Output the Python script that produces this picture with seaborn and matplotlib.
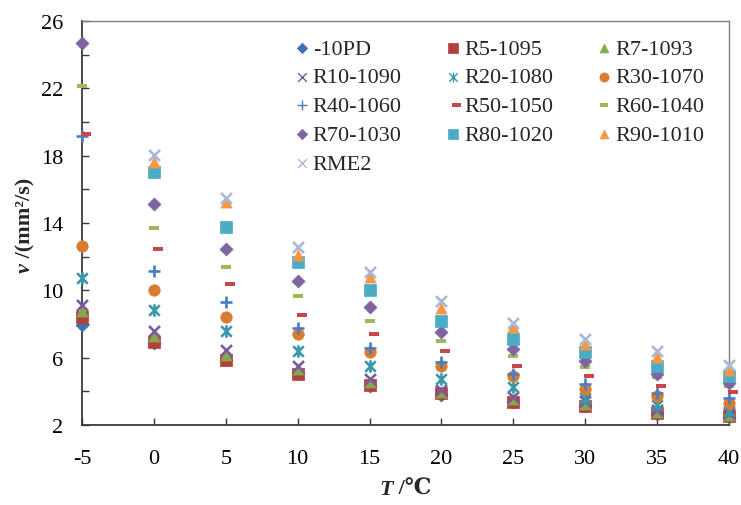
import numpy as np
import pandas as pd
import matplotlib
matplotlib.use("Agg")
import matplotlib.pyplot as plt
from matplotlib.path import Path
import seaborn as sns

nan = np.nan
temps = [-5, 0, 5, 10, 15, 20, 25, 30, 35, 40]

names = ["-10PD", "R5-1095", "R7-1093", "R10-1090", "R20-1080", "R30-1070",
         "R40-1060", "R50-1050", "R60-1040", "R70-1030", "R80-1020",
         "R90-1010", "RME2"]

v_pd10 = [7.94, 6.85, 5.85, 5.10, 4.30, 3.80, 3.35, 3.10, 2.68, 2.48]
v_r5 = [8.39, 6.95, 5.88, 5.03, 4.35, 3.88, 3.38, 3.15, 2.72, 2.52]
v_r7 = [8.79, 7.30, 6.15, 5.32, 4.53, 3.97, 3.54, 3.25, 2.80, 2.62]
v_r10 = [9.13, 7.60, 6.47, 5.52, 4.73, 4.09, 3.64, 3.40, 2.90, 2.71]
v_r20 = [10.71, 8.85, 7.56, 6.41, 5.52, 4.73, 4.24, 3.60, 3.20, 2.84]
v_r30 = [12.65, 10.02, 8.39, 7.40, 6.31, 5.48, 4.89, 4.13, 3.70, 3.30]
v_r40 = [19.18, 11.16, 9.32, 7.74, 6.57, 5.72, 5.03, 4.43, 3.90, 3.58]
v_r50 = [19.29, 12.45, 10.37, 8.53, 7.40, 6.39, 5.48, 4.89, 4.33, 3.94]
v_r60 = [22.16, 13.68, 11.40, 9.64, 8.19, 6.97, 6.08, 5.46, 4.83, 4.33]
v_r70 = [24.67, 15.13, 12.45, 10.53, 9.02, 7.50, 6.51, 5.82, 5.03, 4.49]
v_r80 = [nan, 17.05, 13.74, 11.66, 10.03, 8.19, 7.11, 6.31, 5.48, 4.89]
v_r90 = [nan, 17.64, 15.26, 12.10, 10.77, 8.98, 7.80, 6.81, 6.02, 5.28]
v_rme2 = [nan, 18.04, 15.47, 12.55, 11.07, 9.38, 8.04, 7.11, 6.37, 5.56]

values = [v_pd10, v_r5, v_r7, v_r10, v_r20, v_r30, v_r40, v_r50, v_r60,
          v_r70, v_r80, v_r90, v_rme2]

x_ticks = [-5, 0, 5, 10, 15, 20, 25, 30, 35, 40]
y_ticks = [2, 6, 10, 14, 18, 22, 26]

# ---------- style ----------
sns.set_style("white")
plt.rcParams["font.family"] = ["Liberation Serif", "DejaVu Serif", "Noto Sans CJK SC"]

W, H = 741, 506
fig = plt.figure(figsize=(W / 100, H / 100), dpi=100)
L, R, T, B = 82, 729, 22, 426
ax = fig.add_axes([L / W, 1 - B / H, (R - L) / W, (B - T) / H])


def rect(x0, x1, y0, y1):
    return Path([(x0, y0), (x1, y0), (x1, y1), (x0, y1), (x0, y0)],
                [Path.MOVETO, Path.LINETO, Path.LINETO, Path.LINETO, Path.CLOSEPOLY])


dash_c = rect(-1, 1, -0.4, 0.4)
dash_off = rect(-0.15, 1.0, -0.22, 0.22)
star = Path([(-0.85, -0.85), (0.85, 0.85), (-0.85, 0.85), (0.85, -0.85), (0, -1), (0, 1)],
            [Path.MOVETO, Path.LINETO, Path.MOVETO, Path.LINETO, Path.MOVETO, Path.LINETO])

colors = ["#4170B0", "#B3403D", "#86A84A", "#7A5C9E", "#3A98AD", "#DA7C30",
          "#4A7EC0", "#C8474A", "#9BBB59", "#8064A2", "#4BACC6", "#F79646",
          "#A9B8D6"]
# (marker, size, linewidth)
styles = [("D", 44, 0.5), ("s", 70, 0.5), ("^", 64, 0.5),
          ("x", 62, 1.9), (star, 80, 1.9), ("o", 68, 0.5),
          ("+", 66, 1.9), (dash_off, 187, 0.0), (dash_c, 52, 0.0),
          ("D", 44, 0.5), ("s", 70, 0.5), ("^", 64, 0.5),
          ("x", 62, 1.9)]

for name, vals, col, (mk, sz, lw) in zip(names, values, colors, styles):
    df = pd.DataFrame({"T": temps, "v": vals}).dropna()
    sns.scatterplot(data=df, x="T", y="v", ax=ax, marker=mk, s=sz, color=col,
                    edgecolor=col, linewidth=lw, clip_on=False, label=name,
                    legend=False, zorder=3)

ax.set_xlim(-5, 40)
ax.set_ylim(2, 26)
ax.set_xticks(x_ticks)
ax.set_xticklabels([str(t) for t in x_ticks])
ax.set_yticks(y_ticks)
ax.set_yticklabels([str(t) for t in y_ticks])
ax.set_yticks(list(range(4, 25, 4)), minor=True)
ax.set_xlabel("")
ax.set_ylabel("")

ax.tick_params(which="both", direction="in", length=5, width=1, color="#3a3a3a",
               left=True, bottom=True, top=False, right=False)
ax.tick_params(axis="x", pad=17.5, labelsize=16, labelcolor="black")
ax.tick_params(axis="y", pad=13.5, labelsize=16, labelcolor="black")
ax.grid(False)
for side in ["left", "bottom"]:
    ax.spines[side].set_color("#3a3a3a")
    ax.spines[side].set_linewidth(1.3)
for side in ["top", "right"]:
    ax.spines[side].set_color("#7f7f7f")
    ax.spines[side].set_linewidth(1.0)
    ax.spines[side].set_visible(True)

# ---------- legend (row-wise order like the reference) ----------
handles, labels = ax.get_legend_handles_labels()
order = [0, 3, 6, 9, 12, 1, 4, 7, 10, 2, 5, 8, 11]
leg = ax.legend([handles[i] for i in order], [labels[i] for i in order],
                ncol=3, frameon=False, fontsize=16, markerscale=0.8,
                handlelength=0.8, handletextpad=0.1, columnspacing=1.9,
                labelspacing=0.37, borderpad=0, borderaxespad=0,
                loc="upper left", bbox_to_anchor=(292.8 / W, 1 - 39 / H),
                bbox_transform=fig.transFigure)
for h in leg.legend_handles:
    lws = h.get_linewidths()
    if lws is not None and len(lws) and lws[0] > 1:
        h.set_linewidth(1.0)

# ---------- axis titles (italic symbol + bold unit text) ----------
fig.canvas.draw()
rend = fig.canvas.get_renderer()

# x label: "T /℃" centred at x=405.5, y=490 (from top)
XL_Y = 490
tx1 = fig.text(0, 0, "T", fontsize=16, fontweight="bold", fontstyle="italic",
               ha="left", va="center")
tx2 = fig.text(0, 0, " /℃", fontsize=16, fontweight="bold",
               family=["Liberation Serif", "DejaVu Serif", "Noto Sans CJK SC", "DejaVu Sans"],
               ha="left", va="center")
w1 = tx1.get_window_extent(rend).width
w2 = tx2.get_window_extent(rend).width
x0 = 405.5 - (w1 + w2) / 2
tx1.set_position((x0 / W, 1 - XL_Y / H))
tx2.set_position(((x0 + w1) / W, 1 - XL_Y / H))

# y label: "ν /(mm²/s)" rotated, centred at y=225 (from top), x=25
ty1 = fig.text(0, 0, "ν", fontsize=16, fontweight="bold", fontstyle="italic",
               rotation=90, ha="center", va="bottom")
ty2 = fig.text(0, 0, " /(mm²/s)", fontsize=16, fontweight="bold",
               rotation=90, ha="center", va="bottom")
h1 = ty1.get_window_extent(rend).height
h2 = ty2.get_window_extent(rend).height
ybot = 225 + (h1 + h2) / 2  # from top
ty1.set_position((25 / W, 1 - ybot / H))
ty2.set_position((25 / W, 1 - (ybot - h1) / H))

fig.savefig("out.png", dpi=100)
